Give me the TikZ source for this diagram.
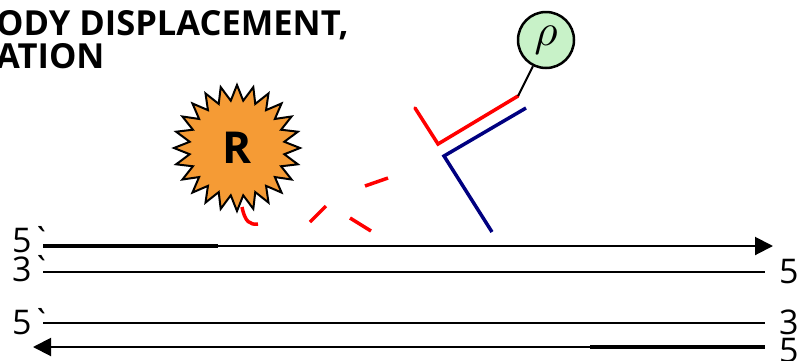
\documentclass[tikz,border=0pt]{standalone}
\usepackage{fontspec}
\setmainfont{Open Sans}
\usetikzlibrary{shapes.geometric,arrows.meta}

\definecolor{burstorange}{RGB}{245,155,53}
\definecolor{beadgreen}{RGB}{200,242,200}
\definecolor{navy}{RGB}{0,0,128}

\begin{document}
\begin{tikzpicture}[x=1pt, y=-1pt,
        strand/.style={line width=2pt,black},
        primer/.style={line width=4.5pt,black},
        sense/.style={strand,-{Triangle[length=18pt,width=18pt]}},
        endlabel/.style={inner sep=0pt,font=\fontsize{34}{34}\selectfont},
        title/.style={inner sep=0pt,font=\fontsize{34.5}{34.5}\selectfont\bfseries},
        burst/.style={star,star points=24,star point ratio=1.32,minimum size=126pt,
        inner sep=0pt,draw,line width=2pt,black,fill=burstorange,text=black,
        font=\fontsize{44}{44}\selectfont\bfseries},
        bead/.style={circle,minimum size=56pt,inner sep=0pt,draw,line width=2.5pt,
        black,fill=beadgreen},
        probe/.style={line width=3.5pt,red},
        target/.style={line width=3.5pt,navy},
        tether/.style={line width=2pt,black}]

	\useasboundingbox (0,0) rectangle (798,360);

	% heading, cut off on the left
	\node [title,anchor=base west] (head1) at (-4,35)  {ODY DISPLACEMENT,};
	\node [title,anchor=base west] (head2) at (-4,68)  {ATION};

	% reporter and quencher-labelled probe
	\node [burst] (rep) at (237,148) {R};
	\node [bead]  (lab) at (546,40)  {\scalebox{4.5}{$\rho$}};

	\coordinate (tail1) at (242,207);
	\coordinate (tail2) at (258,224);
	\coordinate (pk1) at (415,108);
	\coordinate (pk2) at (438,144);
	\coordinate (pk3) at (518,96);
	\coordinate (tg1) at (492,232);
	\coordinate (tg2) at (444,156);
	\coordinate (tg3) at (526,108);

	\draw [probe] (tail1) .. controls (245,222) and (250,225) .. (tail2);
	\draw [probe] (310,222) -- (326,206);
	\draw [probe] (350,218) -- (371,231);
	\draw [probe] (365,186) -- (388,178);
	\draw [probe,line cap=round] (pk1) -- (pk2) -- (pk3);
	\draw [tether] (pk3) -- (lab);
	\draw [target] (tg1) -- (tg2) -- (tg3);

	% the four strands
	\coordinate (s1a) at (43,246);  \coordinate (s1p) at (218,246);
	\coordinate (s1b) at (773,246);
	\coordinate (s2a) at (43,272);  \coordinate (s2b) at (765,272);
	\coordinate (s3a) at (43,323);  \coordinate (s3b) at (765,323);
	\coordinate (s4a) at (33,347);  \coordinate (s4p) at (590,347);
	\coordinate (s4b) at (765,347);

	\draw [sense] (s1a) -- (s1b);
	\draw [primer] (s1a) -- (s1p);
	\draw [strand] (s2a) -- (s2b);
	\draw [strand] (s3a) -- (s3b);
	\draw [sense] (s4b) -- (s4a);
	\draw [primer] (s4p) -- (s4b);

	\node [endlabel,anchor=base west] (l1) at (12,252) {5\textasciigrave};
	\node [endlabel,anchor=base west] (l2) at (12,281) {3\textasciigrave};
	\node [endlabel,anchor=base west] (l3) at (12,334) {5\textasciigrave};
	\node [endlabel,anchor=base west] (r1) at (779,283) {5};
	\node [endlabel,anchor=base west] (r2) at (779,334) {3};
	\node [endlabel,anchor=base west] (r3) at (779,362) {5};
\end{tikzpicture}
\end{document}
